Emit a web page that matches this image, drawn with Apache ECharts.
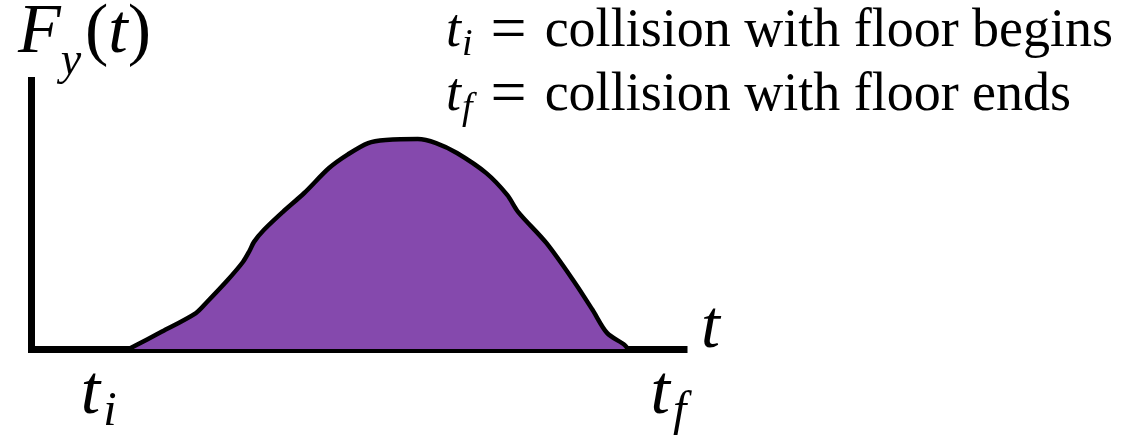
<!DOCTYPE html>
<html>
<head>
<meta charset="utf-8">
<script src="https://cdn.jsdelivr.net/npm/echarts@6/dist/echarts.min.js"></script>
<style>
  html, body { margin: 0; padding: 0; background: #fff; }
  #chart { width: 1128px; height: 437px; }
</style>
</head>
<body>
<div id="chart"></div>
<script>
// time (arbitrary units, axis 0..100) and force (0..100)
const tData = [14.9, 20.0, 25.2, 26.9, 30.0, 32.4, 33.4, 34.1, 35.6, 38.5, 41.8, 45.6, 48.5, 51.6, 54.3, 59.2, 62.0, 65.2, 69.7, 72.9, 74.6, 78.9, 83.3, 86.0, 88.2, 90.9, 91.4];
const fData = [0, 6.5, 13.4, 17.5, 25.5, 32.4, 36.5, 39.9, 44.3, 51.0, 58.1, 67.4, 72.5, 76.7, 77.8, 78.2, 76.7, 73.0, 65.5, 57.4, 51.0, 39.5, 24.6, 14.5, 6.0, 1.5, 0];

const tickValues = [10.3, 97.6];
const tickLabels = ['{i|t}{s|i}', '{i|t}{s|f}'];

const serif = 'Liberation Serif';
const chart = echarts.init(document.getElementById('chart'), null, { renderer: 'canvas' });

chart.setOption({
  animation: false,
  backgroundColor: '#fff',
  title: {
    left: 446,
    top: 0,
    padding: 0,
    text: '{i|t}{s|i}{e|=}{r|collision with floor begins}\n{i|t}{s|f}{e|=}{r|collision with floor ends}',
    textStyle: {
      fontWeight: 'normal',
      rich: {
        i: { fontFamily: serif, fontStyle: 'italic', fontWeight: 'normal', fontSize: 54, lineHeight: 64, color: '#000' },
        s: { fontFamily: serif, fontStyle: 'italic', fontWeight: 'normal', fontSize: 38, lineHeight: 20, padding: [27, 0, 0, 1], color: '#000' },
        e: { fontFamily: serif, fontWeight: 'normal', fontSize: 64, lineHeight: 64, padding: [0, 18, 0, 18], color: '#000' },
        r: { fontFamily: serif, fontWeight: 'normal', fontSize: 54, lineHeight: 64, color: '#000' }
      }
    }
  },
  grid: { left: 31.5, right: 444, top: 80.5, bottom: 88, outerBoundsMode: 'none' },
  xAxis: {
    type: 'value',
    min: 0,
    max: 100,
    name: 't',
    nameLocation: 'end',
    nameGap: 17,
    nameTextStyle: {
      fontFamily: serif, fontStyle: 'italic', fontSize: 68, color: '#000',
      verticalAlign: 'bottom', lineHeight: 40
    },
    axisLine: { show: true, lineStyle: { color: '#000', width: 7, cap: 'square' } },
    axisTick: { show: false },
    splitLine: { show: false },
    axisLabel: {
      customValues: tickValues,
      margin: 11,
      formatter: (value) => tickLabels[tickValues.indexOf(value)] || '',
      rich: {
        i: { fontFamily: serif, fontStyle: 'italic', fontSize: 70, lineHeight: 70, color: '#000' },
        s: { fontFamily: serif, fontStyle: 'italic', fontSize: 48, lineHeight: 20, padding: [34, 0, 0, 3], color: '#000' }
      }
    }
  },
  yAxis: {
    type: 'value',
    min: 0,
    max: 100,
    name: '{i|F}{s|y}{r|(}{i|t}{r|)}',
    nameLocation: 'end',
    nameGap: 11,
    nameTextStyle: {
      align: 'center',
      padding: [0, 0, 0, 106],
      rich: {
        i: { fontFamily: serif, fontStyle: 'italic', fontSize: 70, lineHeight: 72, color: '#000' },
        s: { fontFamily: serif, fontStyle: 'italic', fontSize: 46, lineHeight: 10, padding: [56, 4, 0, 0], color: '#000' },
        r: { fontFamily: serif, fontSize: 70, lineHeight: 72, color: '#000' }
      }
    },
    axisLine: { show: true, lineStyle: { color: '#000', width: 7, cap: 'square' } },
    axisTick: { show: false },
    axisLabel: { show: false },
    splitLine: { show: false }
  },
  series: [{
    type: 'line',
    data: tData.map((t, i) => [t, fData[i]]),
    smooth: 0.3,
    symbol: 'none',
    lineStyle: { color: '#000', width: 4.5, cap: 'round', join: 'round' },
    areaStyle: { color: '#8549AD', opacity: 1 }
  }]
});
</script>
</body>
</html>
